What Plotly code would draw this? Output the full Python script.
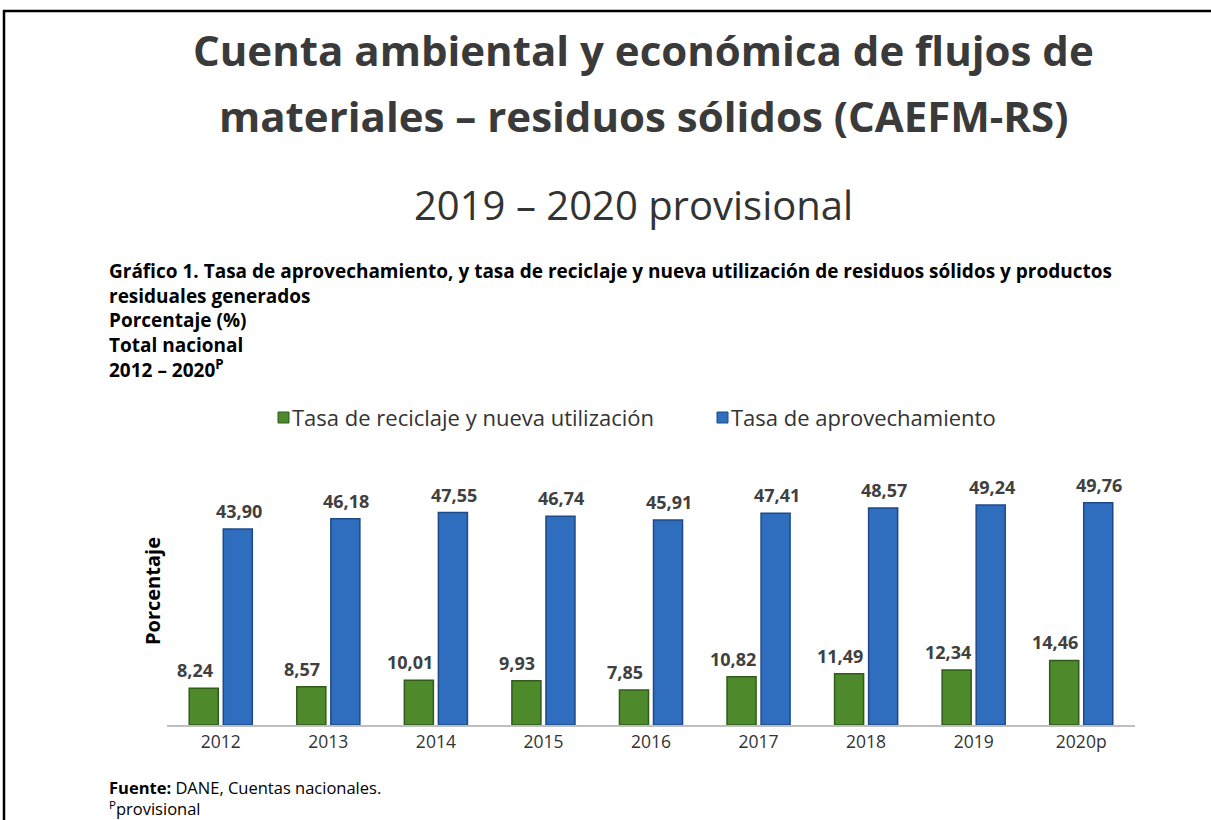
import plotly.graph_objects as go

categories = ["2012", "2013", "2014", "2015", "2016", "2017", "2018", "2019", "2020p"]
reciclaje = [8.24, 8.57, 10.01, 9.93, 7.85, 10.82, 11.49, 12.34, 14.46]
aprovechamiento = [43.90, 46.18, 47.55, 46.74, 45.91, 47.41, 48.57, 49.24, 49.76]
series_names = ["Tasa de reciclaje y nueva utilización", "Tasa de aprovechamiento"]

W, H = 1211, 820
FONT = "Open Sans"
GREEN, GREEN_L = "#4E8A2C", "#2F5C1A"
BLUE, BLUE_L = "#2F6EBE", "#1D4A86"


def fmt(v):
    return f"{v:.2f}".replace(".", ",")


def px(y):
    return 1 - y / H


fig = go.Figure()
fig.add_trace(go.Bar(
    x=categories, y=reciclaje, name=series_names[0],
    marker=dict(color=GREEN, line=dict(color=GREEN_L, width=1.5)),
    showlegend=False,
))
fig.add_trace(go.Bar(
    x=categories, y=aprovechamiento, name=series_names[1],
    marker=dict(color=BLUE, line=dict(color=BLUE_L, width=1.5)),
    showlegend=False,
))

ann = []
# value labels, positioned from the data through the axes (category index)
for i, v in enumerate(reciclaje):
    ann.append(dict(x=i, y=v, xref="x", yref="y", text=f"<b>{fmt(v)}</b>", showarrow=False,
                    xanchor="center", yanchor="bottom", xshift=-26, yshift=4,
                    font=dict(family=FONT, size=18, color="#404040")))
for i, v in enumerate(aprovechamiento):
    ann.append(dict(x=i, y=v, xref="x", yref="y", text=f"<b>{fmt(v)}</b>", showarrow=False,
                    xanchor="center", yanchor="bottom", xshift=18, yshift=4,
                    font=dict(family=FONT, size=18, color="#404040")))

ann.append(dict(x=643 / W, y=px(49), xref="paper", yref="paper", showarrow=False,
                xanchor="center", yanchor="middle",
                text="<b>Cuenta ambiental y económica de flujos de</b>",
                font=dict(family=FONT, size=42, color="#3A3A3A")))
ann.append(dict(x=643 / W, y=px(115), xref="paper", yref="paper", showarrow=False,
                xanchor="center", yanchor="middle",
                text="<b>materiales – residuos sólidos (CAEFM-RS)</b>",
                font=dict(family=FONT, size=42, color="#3A3A3A")))
ann.append(dict(x=633 / W, y=px(204), xref="paper", yref="paper", showarrow=False,
                xanchor="center", yanchor="middle",
                text="2019 – 2020 provisional",
                font=dict(family=FONT, size=40, color="#333333")))
sub_lines = [
    "<b>Gráfico 1. Tasa de aprovechamiento, y tasa de reciclaje y nueva utilización de residuos sólidos y productos</b>",
    "<b>residuales generados</b>",
    "<b>Porcentaje (%)</b>",
    "<b>Total nacional</b>",
    "<b>2012 – 2020<sup>P</sup></b>",
]
ann.append(dict(x=107 / W, y=px(256), xref="paper", yref="paper",
                xanchor="left", yanchor="top", align="left", showarrow=False,
                text="<br>".join(sub_lines),
                font=dict(family=FONT, size=19, color="#000000")))
# legend
leg = [(278, GREEN, GREEN_L, series_names[0]), (717, BLUE, BLUE_L, series_names[1])]
shapes = []
for x0, c, lc, name in leg:
    shapes.append(dict(type="rect", xref="paper", yref="paper",
                       x0=x0 / W, x1=(x0 + 11) / W, y0=px(423), y1=px(412),
                       fillcolor=c, line=dict(color=lc, width=1)))
    ann.append(dict(x=(x0 + 12) / W, y=px(417), xref="paper", yref="paper",
                    xanchor="left", yanchor="middle", showarrow=False, text=name,
                    font=dict(family=FONT, size=22, color="#333333")))
ann.append(dict(x=152 / W, y=px(591), xref="paper", yref="paper", showarrow=False,
                text="<b>Porcentaje</b>", textangle=-90, xanchor="center", yanchor="middle",
                font=dict(family=FONT, size=20, color="#000000")))
ann.append(dict(x=107 / W, y=px(774), xref="paper", yref="paper", xanchor="left",
                yanchor="top", align="left", showarrow=False,
                text="<b>Fuente:</b> DANE, Cuentas nacionales.<br><sup>P</sup>provisional",
                font=dict(family=FONT, size=16.5, color="#000000")))

# frame lines
shapes.append(dict(type="line", xref="paper", yref="paper", x0=4 / W, x1=4 / W,
                   y0=px(10), y1=0, line=dict(color="#000000", width=2.5)))
shapes.append(dict(type="line", xref="paper", yref="paper", x0=3 / W, x1=1,
                   y0=px(11), y1=px(11), line=dict(color="#000000", width=2.5)))

fig.update_layout(
    width=W, height=H, margin=dict(l=0, r=0, t=0, b=0),
    paper_bgcolor="white", plot_bgcolor="white",
    barmode="group", bargap=0.367, bargroupgap=0.147,
    annotations=ann, shapes=shapes, showlegend=False,
    font=dict(family=FONT),
    xaxis=dict(type="category", domain=[167 / W, 1135 / W], range=[-0.5, len(categories) - 0.5],
               showline=True, linecolor="#BFBFBF", linewidth=2,
               ticks="", tickfont=dict(family=FONT, size=17.5, color="#333333"),
               showgrid=False, zeroline=False),
    yaxis=dict(domain=[px(725), px(457)], range=[0, 60], visible=False,
               showgrid=False, zeroline=False),
)

fig.write_html("out.html", config={"displayModeBar": False},
               post_script="document.body.style.margin='0';document.body.style.overflow='hidden';")
